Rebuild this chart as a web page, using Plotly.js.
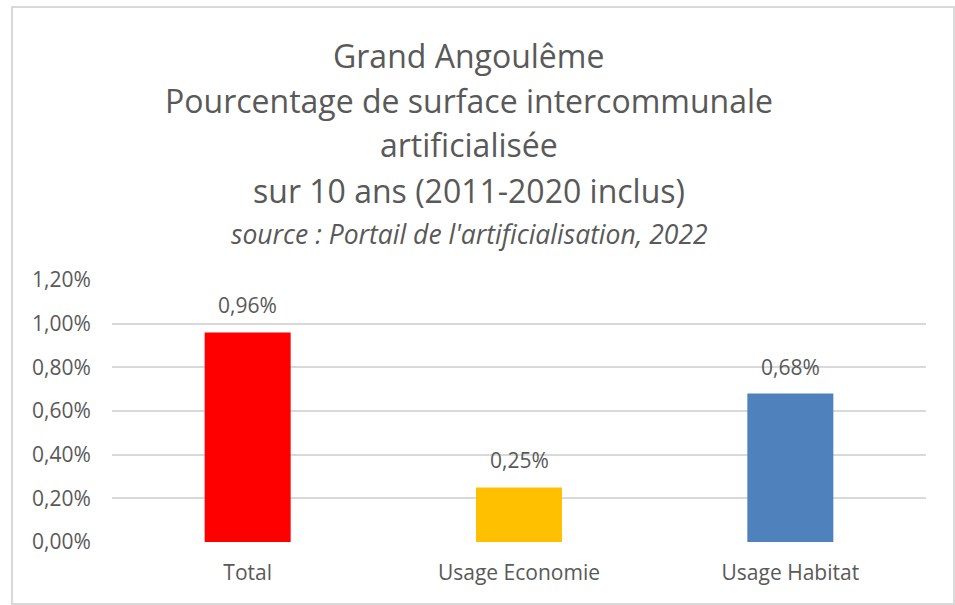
<!DOCTYPE html>
<html>
<head>
<meta charset="utf-8">
<script src="https://cdn.plot.ly/plotly-3.0.1.min.js"></script>
<style>html,body{margin:0;padding:0;background:#fff;}#chart{width:955px;height:605px;}</style>
</head>
<body>
<div id="chart"></div>
<script>
const categories = ["Total", "Usage Economie", "Usage Habitat"];
const values = [0.0096, 0.0025, 0.0068];
const barColors = ["#FF0000", "#FFC000", "#4F81BD"];
const titleLines = [
  "Grand Angoulême",
  "Pourcentage de surface intercommunale",
  "artificialisée",
  "sur 10 ans (2011-2020 inclus)"
];
const sourceText = "source : Portail de l'artificialisation, 2022";
const tickVals = [0, 0.002, 0.004, 0.006, 0.008, 0.010, 0.012];

const W = 955, H = 605;
const M = {l: 112, r: 29, t: 280, b: 63};
const plotH = H - M.t - M.b;
const plotW = W - M.l - M.r;
const py = p => (H - M.b - p) / plotH;   // pixel y -> paper y
const px = p => (p - M.l) / plotW;       // pixel x -> paper x

const grey = "#595959";
const FONT = "Open Sans, sans-serif";

const fmt = v => (v * 100).toFixed(2).replace('.', ',') + '%';

const annotations = [];
const titleMid = [56, 100, 144.5, 190.5];
titleLines.forEach((t, i) => {
  annotations.push({
    text: t, xref: 'paper', yref: 'paper', x: px(469), xanchor: 'center',
    y: py(titleMid[i]), yanchor: 'middle', showarrow: false,
    font: {family: FONT, size: 32, color: grey}
  });
});
annotations[0].x = px(468);
annotations.push({
  text: '<i>' + sourceText + '</i>', xref: 'paper', yref: 'paper', x: px(469), xanchor: 'center',
  y: py(234), yanchor: 'middle', showarrow: false,
  font: {family: FONT, size: 26.5, color: grey}
});
categories.forEach((c, i) => {
  annotations.push({
    text: fmt(values[i]), x: c, y: values[i], xref: 'x', yref: 'y',
    xanchor: 'center', yanchor: 'bottom', yshift: 11, showarrow: false,
    font: {family: FONT, size: 21, color: grey}
  });
});

const trace = {
  type: 'bar', x: categories, y: values,
  marker: {color: barColors},
  hoverinfo: 'x+y'
};

const layout = {
  width: W, height: H,
  margin: M,
  separators: ', ',
  paper_bgcolor: '#fff', plot_bgcolor: '#fff',
  showlegend: false,
  bargap: 0.683,
  font: {family: FONT, color: grey, size: 21},
  xaxis: {
    type: 'category', showgrid: false, showline: false, zeroline: false,
    ticks: 'outside', ticklen: 12, tickcolor: 'rgba(0,0,0,0)',
    tickfont: {family: FONT, size: 21, color: grey}
  },
  yaxis: {
    range: [0, 0.012], tickvals: tickVals, tickformat: '.2%',
    showgrid: true, gridcolor: '#d9d9d9', gridwidth: 2,
    zeroline: false, showline: false,
    ticks: 'outside', ticklen: 16, tickcolor: 'rgba(0,0,0,0)',
    tickfont: {family: FONT, size: 21, color: grey}
  },
  annotations: annotations,
  shapes: [{
    type: 'rect', xref: 'paper', yref: 'paper',
    x0: px(12), x1: px(954), y0: py(604), y1: py(7),
    line: {color: '#d9d9d9', width: 2}, fillcolor: 'rgba(0,0,0,0)', layer: 'below'
  }]
};

Plotly.newPlot('chart', [trace], layout, {displayModeBar: false, staticPlot: true});
</script>
</body>
</html>
